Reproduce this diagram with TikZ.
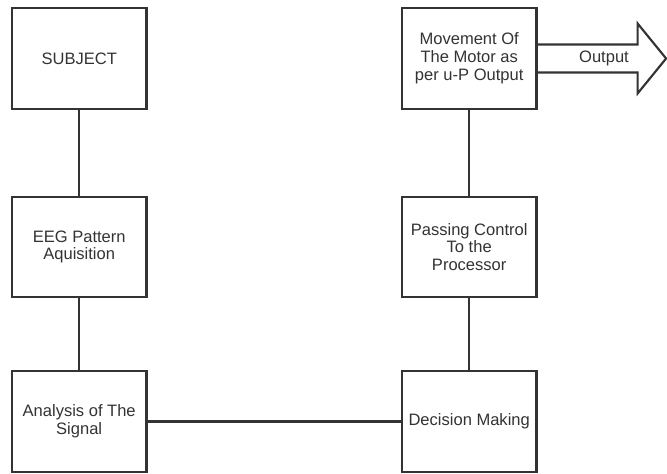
\documentclass[tikz,border=0pt]{standalone}
\usepackage{fontspec}
\setmainfont{Liberation Sans}
\definecolor{ink}{HTML}{333333}
\tikzset{
  blk/.style={draw=ink, line width=1.6pt, fill=white, text=ink, minimum width=101pt, minimum height=75.5pt, align=center, inner sep=2pt, font=\fontsize{12.4}{13.4}\selectfont},
  wire/.style={draw=ink, line width=1.6pt}
}
\begin{document}
\begin{tikzpicture}[x=0.75pt, y=-0.75pt]
				\useasboundingbox (0,0) rectangle (667,474);

				%%left column
				\node[blk] (subject) at (79.2, 58.5) {SUBJECT};
				\node[blk] (eeg) at (79.2, 247) {EEG Pattern\\Aquisition};
				\node[blk] (analysis) at (79.2, 421.5) {Analysis of The\\Signal};

				%%right column
				\node[blk] (motor) at (469.2, 58.5) {Movement Of\\The Motor as\\per u-P Output};
				\node[blk] (passing) at (469.2, 247) {Passing Control\\To the\\Processor};
				\node[blk] (decision) at (469.2, 421.5) {Decision Making};

				%%links
				\draw[wire] (subject) -- (eeg);
				\draw[wire] (eeg) -- (analysis);
				\draw[wire] (analysis) -- (decision);
				\draw[wire] (decision) -- (passing);
				\draw[wire] (passing) -- (motor);

				%%output arrow
				\draw[wire, line join=miter] (motor.east) ++(0,-14) -- ++(100,0) -- ++(0,-21) -- ++(28.5,35) -- ++(-28.5,35) -- ++(0,-21) -- ++(-100,0);
				\node[text=ink, font=\fontsize{12.4}{13.4}\selectfont] (outlbl) at (604, 58.5) {Output};
\end{tikzpicture}
\end{document}
